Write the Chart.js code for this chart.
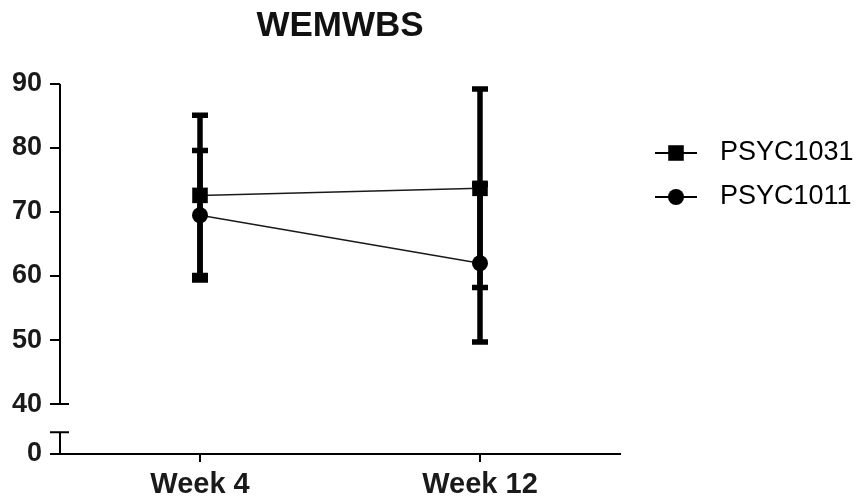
<!DOCTYPE html>
<html>
<head>
<meta charset="utf-8">
<title>WEMWBS</title>
<script src="https://cdn.jsdelivr.net/npm/chart.js@4.4.1/dist/chart.umd.min.js"></script>
<style>
  html, body { margin: 0; padding: 0; background: #fff; }
  #chart { display: block; }
</style>
</head>
<body>
<canvas id="chart" width="868" height="502"></canvas>
<script>
const weeks = ['Week 4', 'Week 12'];
const psyc1031Mean = [72.6, 73.7];
const psyc1031Sd = [12.5, 15.5];
const psyc1011Mean = [69.5, 62.0];
const psyc1011Sd = [10.1, 12.3];
const yTicks = [40, 50, 60, 70, 80, 90];
const yBreakLabel = '0';

const yBottom = 32.2; // value sitting on the x axis, labelled "0"
const yBreak = 35.6;  // top of the short stub below the axis break

const errorBars = [psyc1031Sd, psyc1011Sd];

Chart.defaults.font.family = '"Liberation Sans", Arial, sans-serif';
Chart.defaults.color = '#1a1a1a';

// mean +/- SD bars, drawn under the markers
const errorBarPlugin = {
    id: 'errorBars',
    beforeDatasetsDraw(chart) {
        const ctx = chart.ctx;
        const y = chart.scales.y;
        ctx.save();
        ctx.strokeStyle = '#000';
        ctx.lineWidth = 5.5;
        chart.data.datasets.forEach((ds, i) => {
            chart.getDatasetMeta(i).data.forEach((pt, j) => {
                const top = y.getPixelForValue(ds.data[j] + errorBars[i][j]);
                const bottom = y.getPixelForValue(ds.data[j] - errorBars[i][j]);
                ctx.beginPath();
                ctx.moveTo(pt.x, top);
                ctx.lineTo(pt.x, bottom);
                ctx.moveTo(pt.x - 8, top);
                ctx.lineTo(pt.x + 8, top);
                ctx.moveTo(pt.x - 8, bottom);
                ctx.lineTo(pt.x + 8, bottom);
                ctx.stroke();
            });
        });
        ctx.restore();
    }
};

// y axis line with a break between 40 and 0
const brokenAxisPlugin = {
    id: 'brokenAxis',
    afterDraw(chart) {
        const ctx = chart.ctx;
        const y = chart.scales.y;
        const x0 = chart.chartArea.left;
        const top = y.getPixelForValue(yTicks[yTicks.length - 1]);
        const low = y.getPixelForValue(yTicks[0]);
        const stub = y.getPixelForValue(yBreak);
        const base = y.getPixelForValue(yBottom);
        ctx.save();
        ctx.strokeStyle = '#000';
        ctx.lineWidth = 2;
        ctx.beginPath();
        ctx.moveTo(x0, top);
        ctx.lineTo(x0, low);
        ctx.moveTo(x0 - 10, low);
        ctx.lineTo(x0 + 9, low);
        ctx.moveTo(x0 - 10, stub);
        ctx.lineTo(x0 + 9, stub);
        ctx.moveTo(x0, stub);
        ctx.lineTo(x0, base);
        ctx.stroke();
        ctx.restore();
    }
};

// legend on the right: line through marker, then label
const sideLegendPlugin = {
    id: 'sideLegend',
    afterDraw(chart) {
        const ctx = chart.ctx;
        const area = chart.chartArea;
        ctx.save();
        chart.data.datasets.forEach((ds, i) => {
            const cy = area.top + 69 + i * 44;
            const x = area.right + 35;
            ctx.strokeStyle = '#000';
            ctx.lineWidth = 2;
            ctx.beginPath();
            ctx.moveTo(x, cy);
            ctx.lineTo(x + 42, cy);
            ctx.stroke();
            ctx.fillStyle = '#000';
            Chart.helpers.drawPoint(ctx, { pointStyle: ds.pointStyle, radius: ds.pointRadius, borderWidth: 0, rotation: 0 }, x + 21, cy);
            ctx.font = '27px "Liberation Sans", Arial, sans-serif';
            ctx.textBaseline = 'middle';
            ctx.textAlign = 'left';
            ctx.fillText(ds.label, area.right + 100, cy);
        });
        ctx.restore();
    }
};

new Chart(document.getElementById('chart'), {
    type: 'line',
    data: {
        labels: weeks,
        datasets: [
            {
                label: 'PSYC1031',
                data: psyc1031Mean,
                borderColor: '#1a1a1a',
                borderWidth: 1.5,
                pointStyle: 'rect',
                pointRadius: 11,
                pointBorderWidth: 0,
                pointBackgroundColor: '#000',
                backgroundColor: '#000'
            },
            {
                label: 'PSYC1011',
                data: psyc1011Mean,
                borderColor: '#1a1a1a',
                borderWidth: 1.5,
                pointStyle: 'circle',
                pointRadius: 8,
                pointBorderWidth: 0,
                pointBackgroundColor: '#000',
                backgroundColor: '#000'
            }
        ]
    },
    options: {
        responsive: false,
        animation: false,
        events: [],
        layout: { padding: { left: 0, right: 248, top: 0, bottom: 0 } },
        plugins: {
            legend: { display: false },
            tooltip: { enabled: false },
            title: {
                display: true,
                text: 'WEMWBS',
                fullSize: false,
                color: '#111',
                font: { size: 35, weight: 'bold' },
                padding: { top: 5, bottom: 37 }
            }
        },
        scales: {
            x: {
                type: 'category',
                offset: true,
                grid: { offset: false, drawOnChartArea: false, tickLength: 8, color: '#000', lineWidth: 2 },
                border: { display: true, color: '#000', width: 2 },
                ticks: { padding: 6, font: { size: 29, weight: 'bold' } },
                afterFit(scale) { scale.height = 48; }
            },
            y: {
                min: yBottom,
                max: yTicks[yTicks.length - 1],
                grid: { drawOnChartArea: false, tickLength: 10, color: '#000', lineWidth: 2 },
                border: { display: false },
                afterBuildTicks(scale) {
                    scale.ticks = [yBottom].concat(yTicks).map(v => ({ value: v }));
                },
                ticks: {
                    padding: 8,
                    font: { size: 27, weight: 'bold' },
                    callback: (value) => value === yBottom ? yBreakLabel : value
                },
                afterFit(scale) { scale.width = 60; }
            }
        }
    },
    plugins: [errorBarPlugin, brokenAxisPlugin, sideLegendPlugin]
});
</script>
</body>
</html>
